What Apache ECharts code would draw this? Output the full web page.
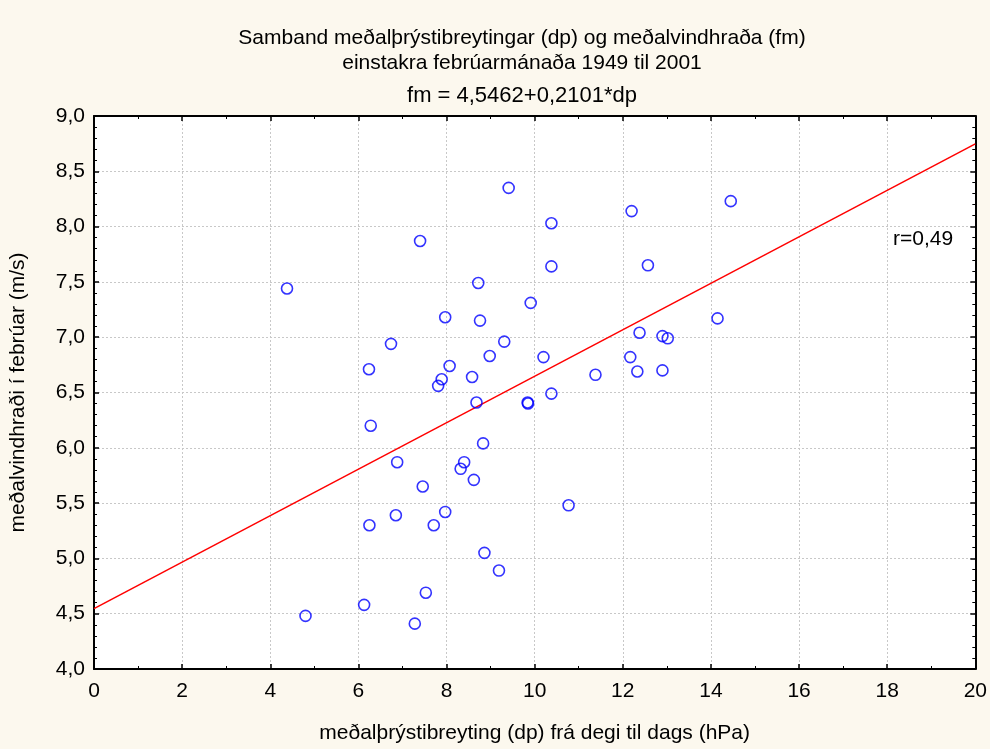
<!DOCTYPE html>
<html><head><meta charset="utf-8">
<script src="https://cdn.jsdelivr.net/npm/echarts@6/dist/echarts.min.js"></script>
<style>html,body{margin:0;padding:0;background:#fcf8ee;overflow:hidden}#c{width:990px;height:749px}</style>
</head><body><div id="c"></div>
<script>
const dpValues = [4.38,4.80,6.13,6.24,6.28,6.25,6.74,6.85,6.88,7.28,7.40,7.46,7.53,7.71,7.81,7.89,7.97,7.97,8.07,8.32,8.40,8.58,8.62,8.68,8.72,8.76,8.83,8.86,8.98,9.19,9.31,9.41,9.84,9.85,9.91,10.20,10.38,10.38,10.38,10.77,11.38,12.17,12.20,12.33,12.38,12.57,12.90,12.90,13.02,14.15,14.45];
const fmValues = [7.44,4.48,4.58,6.71,6.20,5.30,6.94,5.39,5.87,4.41,7.87,5.65,4.69,5.30,6.56,6.62,7.18,5.42,6.74,5.81,5.87,6.64,5.71,6.41,7.49,7.15,6.04,5.05,6.83,4.89,6.96,8.35,6.41,6.40,7.31,6.82,8.03,7.64,6.49,5.48,6.66,6.82,8.14,6.69,7.04,7.65,7.01,6.70,6.99,7.17,8.23];
const regression = [4.5462, 0.2101]; // intercept, slope
const lineRange = [0, 20];
const titleLines = ['Samband meðalþrýstibreytingar (dp) og meðalvindhraða (fm)', 'einstakra febrúarmánaða 1949 til 2001', 'fm = 4,5462+0,2101*dp'];
const xName = 'meðalþrýstibreyting (dp) frá degi til dags (hPa)';
const yName = 'meðalvindhraði í febrúar (m/s)';
const rLabel = 'r=0,49';

const FONT = 'Arial, "Liberation Sans", sans-serif';
const pts = dpValues.map((x,i)=>[x, fmValues[i]]);
const linePts = lineRange.map(x=>[x, regression[0]+regression[1]*x]);
const fmt = v => v.toFixed(1).replace('.', ',');

const axisBase = {
  axisLine:{show:true,onZero:false,lineStyle:{color:'#000',width:2}},
  axisTick:{show:true,inside:true,length:5,lineStyle:{color:'#000',width:1.5}},
  minorTick:{show:true,length:3,lineStyle:{color:'#000',width:1}},
};
const titleSizes = [21,21,22];
const titleTops = [23,48,80];
const chart = echarts.init(document.getElementById('c'));
chart.setOption({
  backgroundColor:'#fcf8ee',
  animation:false,
  grid:{left:94,top:116,right:9,bottom:79,show:true,backgroundColor:'#fff',borderWidth:0},
  title: titleLines.map((t,i)=>({text:t,left:517,top:titleTops[i],textAlign:'center',textStyle:{fontFamily:FONT,fontSize:titleSizes[i],fontWeight:'normal',color:'#000'}})),
  xAxis:[
    Object.assign({type:'value',min:0,max:20,interval:2,position:'bottom',
      axisLabel:{fontFamily:FONT,fontSize:21,color:'#000',margin:12},
      minorTick:Object.assign({},axisBase.minorTick,{splitNumber:2}),
      splitLine:{show:true,lineStyle:{color:'#c8c8c8',type:[2,2],width:1}},
      name:xName,nameLocation:'middle',nameGap:54,nameTextStyle:{fontFamily:FONT,fontSize:21,color:'#000'}
    }, {axisLine:axisBase.axisLine,axisTick:axisBase.axisTick}),
    {type:'value',min:0,max:20,interval:2,position:'top',axisLabel:{show:false},splitLine:{show:false},
      axisLine:axisBase.axisLine,axisTick:axisBase.axisTick,minorTick:Object.assign({},axisBase.minorTick,{splitNumber:2})}
  ],
  yAxis:[
    Object.assign({type:'value',min:4,max:9,interval:0.5,position:'left',
      axisLabel:{fontFamily:FONT,fontSize:21,color:'#000',margin:9,formatter:fmt},
      minorTick:Object.assign({},axisBase.minorTick,{splitNumber:5}),
      splitLine:{show:true,lineStyle:{color:'#c8c8c8',type:[2,2],width:1}},
      name:yName,nameLocation:'middle',nameGap:65,nameTextStyle:{fontFamily:FONT,fontSize:21,color:'#000'}
    }, {axisLine:axisBase.axisLine,axisTick:axisBase.axisTick}),
    {type:'value',min:4,max:9,interval:0.5,position:'right',axisLabel:{show:false},splitLine:{show:false},
      axisLine:axisBase.axisLine,axisTick:axisBase.axisTick,minorTick:Object.assign({},axisBase.minorTick,{splitNumber:5})}
  ],
  graphic:[{type:'text',left:893,top:229,style:{text:rLabel,fontFamily:FONT,fontSize:21,fill:'#000'}}],
  series:[
    {type:'line',data:linePts,symbol:'none',lineStyle:{color:'#ff0000',width:1.5},z:2,clip:true},
    {type:'scatter',data:pts,symbol:'circle',symbolSize:11,itemStyle:{color:'rgba(0,0,0,0)',borderColor:'#0000ff',borderWidth:1.6},z:3}
  ]
});
</script></body></html>
